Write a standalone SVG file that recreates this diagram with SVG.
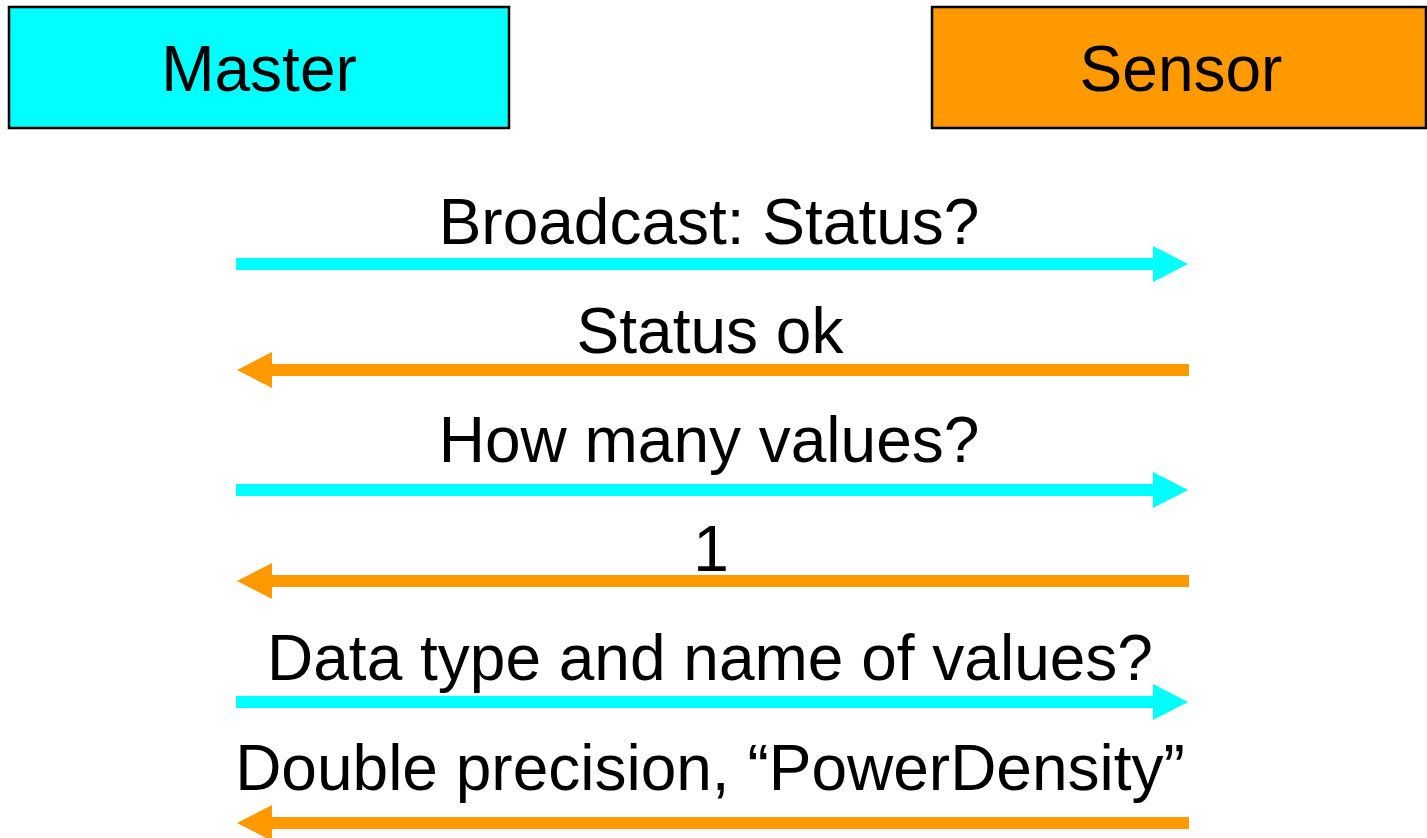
<svg xmlns="http://www.w3.org/2000/svg" width="1427" height="838" viewBox="0 0 1427 838">
  <style>
    .box { stroke: #000; stroke-width: 2.5; }
    .master { fill: #00FFFF; }
    .sensor { fill: #FF9900; }
    .title { font-family: "Liberation Sans", Arial, sans-serif; font-size: 64px; fill: #000; text-anchor: middle; }
    .label { font-family: "Liberation Sans", Arial, sans-serif; font-size: 64px; fill: #000; text-anchor: middle; }
    .msg { stroke-width: 12; fill: none; stroke-linecap: butt; }
    .req { stroke: #00FFFF; marker-end: url(#headCyan); }
    .rep { stroke: #FF9900; marker-end: url(#headOrange); }
  </style>
  <defs>
    <marker id="headCyan" markerUnits="userSpaceOnUse" markerWidth="36" markerHeight="36" refX="0" refY="18" orient="auto" overflow="visible">
      <path d="M0,0 L35,18 L0,36 Z" fill="#00FFFF"/>
    </marker>
    <marker id="headOrange" markerUnits="userSpaceOnUse" markerWidth="36" markerHeight="36" refX="0" refY="18" orient="auto" overflow="visible">
      <path d="M0,0 L35,18 L0,36 Z" fill="#FF9900"/>
    </marker>
  </defs>
  <rect width="1427" height="838" fill="#fff"/>

  <g id="master">
    <rect class="box master" x="9" y="7" width="500" height="121"/>
    <text class="title" x="259" y="91">Master</text>
  </g>

  <g id="sensor">
    <rect class="box sensor" x="932" y="7" width="494" height="121"/>
    <text class="title" x="1181" y="91">Sensor</text>
  </g>

  <g id="connectors">
    <line class="msg req" x1="236" y1="264" x2="1153" y2="264"/>
    <line class="msg rep" x1="1189" y1="370" x2="272" y2="370"/>
    <line class="msg req" x1="236" y1="490" x2="1153" y2="490"/>
    <line class="msg rep" x1="1189" y1="581" x2="272" y2="581"/>
    <line class="msg req" x1="236" y1="702" x2="1153" y2="702"/>
    <line class="msg rep" x1="1189" y1="823" x2="272" y2="823"/>
  </g>

  <g id="labels">
    <text class="label" x="709" y="244">Broadcast: Status?</text>
    <text class="label" x="710" y="353">Status ok</text>
    <text class="label" x="709" y="462">How many values?</text>
    <text class="label" x="711" y="571">1</text>
    <text class="label" x="710" y="680">Data type and name of values?</text>
    <text class="label" x="710" y="790">Double precision, “PowerDensity”</text>
  </g>
</svg>
